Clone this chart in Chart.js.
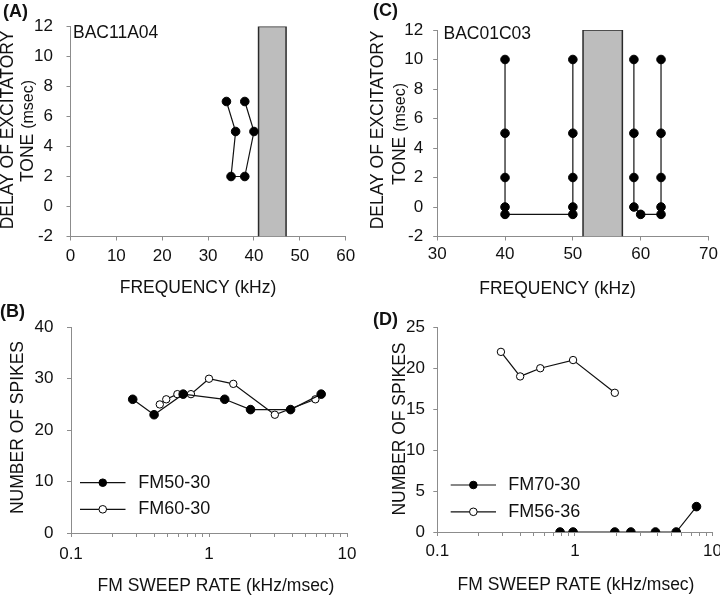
<!DOCTYPE html>
<html>
<head>
<meta charset="utf-8">
<script src="https://cdn.jsdelivr.net/npm/chart.js@4.4.1/dist/chart.umd.min.js"></script>
<style>
  body { margin: 0; background: #fff; }
  #fig { position: relative; width: 720px; height: 596px; }
  #fig canvas { position: absolute; }
</style>
</head>
<body>
<div id="fig">
  <canvas id="chartA" width="360" height="298" style="left:0;top:0"></canvas>
  <canvas id="chartC" width="360" height="298" style="left:360px;top:0"></canvas>
  <canvas id="chartB" width="360" height="298" style="left:0;top:298px"></canvas>
  <canvas id="chartD" width="360" height="298" style="left:360px;top:298px"></canvas>
</div>
<script>
// (A) BAC11A04 - delay of excitatory tone vs frequency
const freqA = [34, 36, 35, 38, 40, 38];
const delayA = [7, 5, 2, 2, 5, 7];
const bandA = [41, 47];            // shaded band (kHz)
const freqAxisA = [0, 60];
const delayAxis = [-2, 12];

// (C) BAC01C03
const freqC1 = [40, 40, 40, 40, 40, 50, 50, 50, 50, 50];
const delayC1 = [10, 5, 2, 0, -0.5, -0.5, 0, 2, 5, 10];
const freqC2 = [59, 59, 59, 59, 60, 63, 63, 63, 63, 63];
const delayC2 = [10, 5, 2, 0, -0.5, -0.5, 0, 2, 5, 10];
const bandC = [51.5, 57.3];
const freqAxisC = [30, 70];

// (B) spikes vs FM sweep rate
const rateB1 = [0.28, 0.4, 0.65, 1.3, 2, 3.9, 6.5];
const spikesB1 = [26, 23, 27, 26, 24, 24, 27];      // FM50-30
const rateB2 = [0.44, 0.49, 0.59, 0.74, 1, 1.5, 3, 5.9];
const spikesB2 = [25, 26, 27, 27, 30, 29, 23, 26];  // FM60-30
const spikesAxisB = [0, 40];

// (D)
const rateD1 = [0.78, 0.97, 1.95, 2.55, 3.85, 5.45, 7.65];
const spikesD1 = [0, 0, 0, 0, 0, 0, 3.1];           // FM70-30
const rateD2 = [0.29, 0.4, 0.56, 0.97, 1.95];
const spikesD2 = [22, 19, 20, 21, 17];              // FM56-36
const spikesAxisD = [0, 25];

const sweepAxis = [0.1, 10];
const sweepTicks = [0.1, 0.2, 0.3, 0.4, 0.5, 0.6, 0.7, 0.8, 0.9, 1, 2, 3, 4, 5, 6, 7, 8, 9, 10];
const sweepLabels = [0.1, 1, 10];

const FONT = "'Liberation Sans', Arial, sans-serif";
const AXIS = '#8c8c8c';
Chart.defaults.font.family = FONT;
Chart.defaults.color = '#111';

function series(xs, ys, label, hollow, r) {
  return {
    label: label,
    data: xs.map((x, i) => ({x: x, y: ys[i]})),
    borderColor: '#111',
    borderWidth: 1.2,
    pointRadius: r,
    pointHoverRadius: r,
    pointBackgroundColor: hollow ? '#fff' : '#000',
    pointBorderColor: '#000',
    pointBorderWidth: 1,
    fill: false,
    order: 0
  };
}

// grey rectangle spanning the whole delay axis
function band(range, yRange) {
  return {
    data: [
      {x: range[0], y: yRange[0]}, {x: range[0], y: yRange[1]},
      {x: range[1], y: yRange[1]}, {x: range[1], y: yRange[0]}
    ],
    borderColor: '#2a2a2a',
    borderWidth: 1.5,
    backgroundColor: '#bdbdbd',
    fill: 'start',
    pointRadius: 0,
    order: 1
  };
}

function panelText(t) {
  return {
    id: 'panelText',
    afterDraw(chart) {
      const ctx = chart.ctx;
      ctx.save();
      ctx.fillStyle = '#111';
      ctx.textAlign = 'left';
      ctx.textBaseline = 'middle';
      ctx.font = 'bold 18px ' + FONT;
      ctx.fillText(t.tag[0], t.tag[1], t.tag[2]);
      if (t.note) {
        ctx.font = '17.5px ' + FONT;
        ctx.fillText(t.note[0], t.note[1], t.note[2]);
      }
      ctx.textAlign = 'center';
      ctx.font = '17.5px ' + FONT;
      ctx.fillText(t.xTitle[0], t.xTitle[1], t.xTitle[2]);

      // rotated y title, each line may mix font sizes
      t.yTitle.forEach(line => {
        ctx.save();
        ctx.translate(line.x, line.y);
        ctx.rotate(-Math.PI / 2);
        ctx.textAlign = 'left';
        ctx.textBaseline = 'alphabetic';
        const w = line.parts.map(p => { ctx.font = p[1] + 'px ' + FONT; return ctx.measureText(p[0]).width; });
        let pos = -w.reduce((a, b) => a + b, 0) / 2;
        line.parts.forEach((p, i) => {
          ctx.font = p[1] + 'px ' + FONT;
          ctx.fillText(p[0], pos, 0);
          pos += w[i];
        });
        ctx.restore();
      });

      if (t.legend) {
        const lg = t.legend;
        chart.data.datasets.forEach((ds, i) => {
          if (!ds.label) return;
          const y = lg.y + i * lg.dy;
          ctx.strokeStyle = ds.borderColor;
          ctx.lineWidth = ds.borderWidth;
          ctx.beginPath();
          ctx.moveTo(lg.x0, y);
          ctx.lineTo(lg.x1, y);
          ctx.stroke();
          ctx.beginPath();
          ctx.arc((lg.x0 + lg.x1) / 2, y, lg.r, 0, Math.PI * 2);
          ctx.fillStyle = ds.pointBackgroundColor;
          ctx.fill();
          ctx.lineWidth = ds.pointBorderWidth;
          ctx.strokeStyle = ds.pointBorderColor;
          ctx.stroke();
          ctx.fillStyle = '#111';
          ctx.textAlign = 'left';
          ctx.textBaseline = 'middle';
          ctx.font = '18px ' + FONT;
          ctx.fillText(ds.label, lg.tx, y);
        });
      }
      ctx.restore();
    }
  };
}

function axisBase(pad) {
  return {
    grid: {drawOnChartArea: false, color: AXIS, tickLength: 4},
    border: {color: AXIS, width: 1},
    ticks: {font: {size: 17}, color: '#111', padding: pad, autoSkip: false, maxRotation: 0, minRotation: 0}
  };
}

function panel(id, o) {
  const a = o.area;
  const x = axisBase(o.xPad);
  if (o.log) {
    x.type = 'logarithmic';
    x.min = sweepAxis[0];
    x.max = sweepAxis[1];
    x.afterBuildTicks = s => { s.ticks = sweepTicks.map(v => ({value: v})); };
    x.ticks.callback = v => sweepLabels.includes(v) ? String(v) : '';
  } else {
    x.type = 'linear';
    x.min = o.xRange[0];
    x.max = o.xRange[1];
    x.ticks.stepSize = 10;
  }
  // fixed box; let the end labels overhang instead of shrinking the plot
  x.afterFit = s => {
    s.height = 298 - a.bottom;
    s.paddingLeft = 0;
    s.paddingRight = 0;
  };

  const y = axisBase(o.yPad);
  y.type = 'linear';
  y.min = o.yRange[0];
  y.max = o.yRange[1];
  y.ticks.stepSize = o.yStep;
  y.afterFit = s => {
    s.width = a.left;
    s.paddingTop = 0;
    s.paddingBottom = 0;
  };

  return new Chart(document.getElementById(id), {
    type: 'line',
    data: {datasets: o.datasets},
    options: {
      responsive: false,
      animation: false,
      layout: {autoPadding: false, padding: {left: 0, top: a.top, right: 360 - a.right, bottom: 0}},
      scales: {x: x, y: y},
      plugins: {legend: {display: false}, tooltip: {enabled: false}}
    },
    plugins: [panelText(o.text)]
  });
}

panel('chartA', {
  area: {left: 70.5, top: 26.5, right: 345.7, bottom: 236.5},
  xRange: freqAxisA, yRange: delayAxis, yStep: 2, xPad: 6, yPad: 13.5,
  datasets: [series(freqA, delayA, '', false, 4.3), band(bandA, delayAxis)],
  text: {
    tag: ['(A)', 3, 12],
    note: ['BAC11A04', 73, 33],
    xTitle: ['FREQUENCY (kHz)', 198, 288],
    yTitle: [
      {x: 13, y: 130, parts: [['DELAY OF EXCITATORY', 17.5]]},
      {x: 32.5, y: 131, parts: [['TONE ', 17.5], ['(msec)', 16]]}
    ]
  }
});

panel('chartC', {
  area: {left: 77.2, top: 30, right: 348.5, bottom: 236.5},
  xRange: freqAxisC, yRange: delayAxis, yStep: 2, xPad: 4, yPad: 10,
  datasets: [
    series(freqC1, delayC1, '', false, 4.3),
    series(freqC2, delayC2, '', false, 4.3),
    band(bandC, delayAxis)
  ],
  text: {
    tag: ['(C)', 13, 11],
    note: ['BAC01C03', 83.5, 34],
    xTitle: ['FREQUENCY (kHz)', 197.5, 289],
    yTitle: [
      {x: 23, y: 130, parts: [['DELAY OF EXCITATORY', 17.5]]},
      {x: 45, y: 134, parts: [['TONE ', 17.5], ['(msec)', 16]]}
    ]
  }
});

panel('chartB', {
  log: true,
  area: {left: 71, top: 29.3, right: 347, bottom: 235},
  yRange: spikesAxisB, yStep: 10, xPad: 7, yPad: 13.5,
  datasets: [
    series(rateB1, spikesB1, 'FM50-30', false, 4.3),
    series(rateB2, spikesB2, 'FM60-30', true, 3.7)
  ],
  text: {
    tag: ['(B)', 0, 14],
    xTitle: ['FM SWEEP RATE (kHz/msec)', 216, 288],
    yTitle: [{x: 23.3, y: 129.5, parts: [['NUMBER OF SPIKES', 17.5]]}],
    legend: {x0: 80, x1: 125.5, tx: 138.3, y: 184.7, dy: 26.6, r: 3.8}
  }
});

panel('chartD', {
  log: true,
  area: {left: 77.3, top: 29.3, right: 352.5, bottom: 234},
  yRange: spikesAxisD, yStep: 5, xPad: 5, yPad: 8.3,
  datasets: [
    series(rateD1, spikesD1, 'FM70-30', false, 4.3),
    series(rateD2, spikesD2, 'FM56-36', true, 3.7)
  ],
  text: {
    tag: ['(D)', 13, 22],
    xTitle: ['FM SWEEP RATE (kHz/msec)', 216, 287.5],
    yTitle: [{x: 45, y: 131, parts: [['NUMBER OF SPIKES', 17.5]]}],
    legend: {x0: 90.7, x1: 136, tx: 148.3, y: 187, dy: 26.8, r: 3.8}
  }
});
</script>
</body>
</html>
